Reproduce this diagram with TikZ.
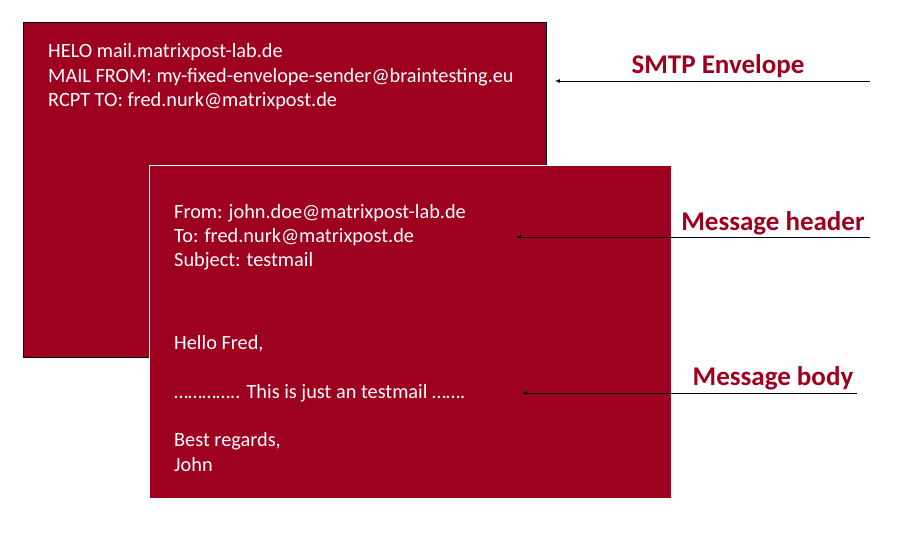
\documentclass[tikz,border=0pt]{standalone}
\usepackage{fontspec}
\setmainfont{Carlito}
\definecolor{wine}{HTML}{9E0020}
\begin{document}
\begin{tikzpicture}[x=1pt,y=-1pt,
  box/.style={fill=wine,draw=white,line width=0.8pt},
  txt/.style={text=white,anchor=west,font=\fontsize{20.3}{22}\selectfont,inner sep=0pt},
  lbl/.style={text=wine,font=\bfseries\fontsize{27}{29}\selectfont},
  arr/.style={-latex,line width=0.7pt}]
\useasboundingbox (0,0) rectangle (920,540);
\path[fill=wine,draw=black,line width=0.5pt] (23,22) rectangle (546,357);
\node[txt] (t1) at (48,52) {HELO mail.matrixpost-lab.de};
\node[txt] (t2) at (48,77) {MAIL FROM: my-fixed-envelope-sender@braintesting.eu};
\node[txt] (t3) at (48,101) {RCPT TO: fred.nurk@matrixpost.de};
\path[box] (149,165) rectangle (671,498);
\node[txt] (f1) at (174,213) {From: john.doe@matrixpost-lab.de};
\node[txt] (f2) at (174,237) {To: fred.nurk@matrixpost.de};
\node[txt] (f3) at (174,261) {Subject: testmail};
\node[txt] (b1) at (174,344) {Hello Fred,};
\node[txt] (b2) at (174,393) {………….. This is just an testmail …….};
\node[txt] (b3) at (174,441) {Best regards,};
\node[txt] (b4) at (174,465) {John};
\node[lbl] (l1) at (718,66) {SMTP Envelope};
\node[lbl] (l2) at (773,223) {Message header};
\node[lbl] (l3) at (773,378) {Message body};
\coordinate (e1) at (870,81); \coordinate (s1) at (555,81);
\coordinate (e2) at (870,237); \coordinate (s2) at (516,237);
\coordinate (e3) at (857,393); \coordinate (s3) at (522,393);
\draw[arr] (e1) -- (s1);
\draw[arr] (e2) -- (s2);
\draw[arr] (e3) -- (s3);
\end{tikzpicture}
\end{document}
